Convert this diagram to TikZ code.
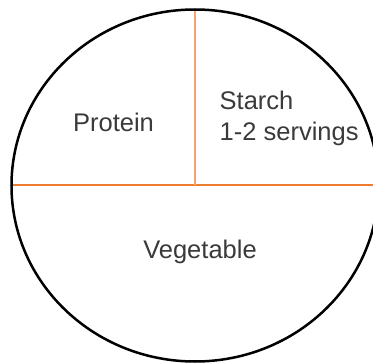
\documentclass[tikz,border=0pt]{standalone}
\usepackage{fontspec}
\setmainfont{Liberation Sans}
\usepackage{xcolor}
\usepackage{tikz}
\usetikzlibrary{positioning}
\definecolor{rimblack}{HTML}{000000}
\definecolor{lineorange}{HTML}{F4A66E}
\definecolor{splitorange}{HTML}{ED7D31}
\definecolor{labelgray}{HTML}{3A3A3A}
\tikzset{every node/.append style={font=\rmfamily},
  portion/.style={text=labelgray,font=\fontsize{25.5}{30}\selectfont,inner sep=0pt}}

\begin{document}
\begin{tikzpicture}[x=1pt,y=-1pt]
  \useasboundingbox (0,0) rectangle (373,364);
  \clip (0,0) rectangle (373,364);
  \coordinate (C) at (195,185);
  \coordinate (T) at (195,9.5);
  \coordinate (L) at (11.5,185);
  \coordinate (R) at (380,185);
  \draw[splitorange,line width=1.6pt] (L)--(R);
  \draw[lineorange,line width=1.6pt] (T)--(C);
  \draw[rimblack,line width=2.5pt] (195,185.5) ellipse [x radius=183.5,y radius=176];
  \node[portion,anchor=base] (protein) at (113.5,131) {Protein};
  \node[portion,anchor=base west] (starch) at (219.5,110) {Starch};
  \node[portion,anchor=base west] (serving) at (219.5,140) {1-2 servings};
  \node[portion,anchor=base] (veg) at (200,258) {Vegetable};
\end{tikzpicture}
\end{document}
